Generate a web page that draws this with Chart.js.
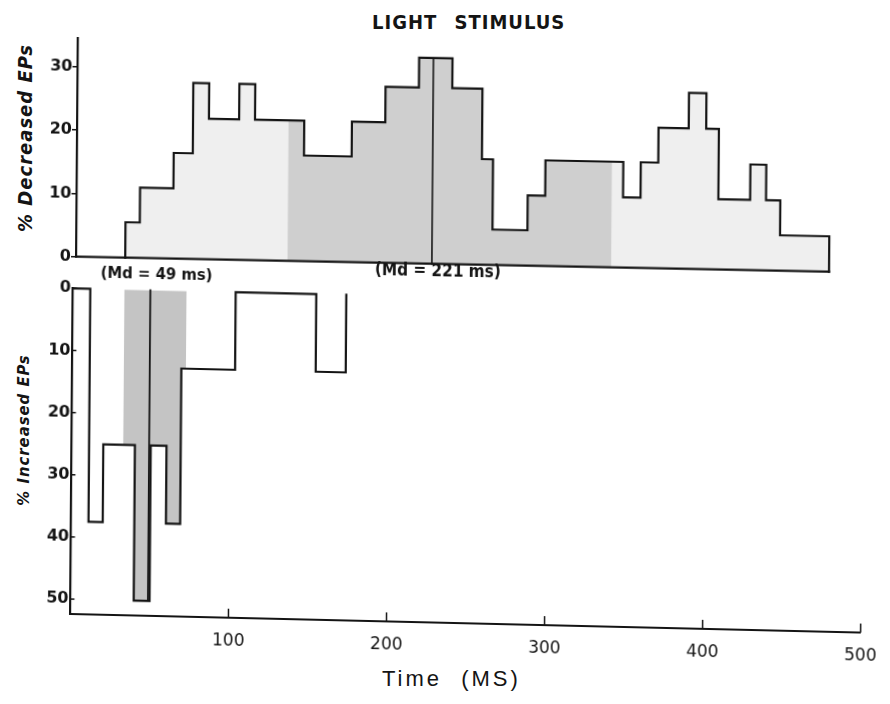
<!DOCTYPE html>
<html>
<head>
<meta charset="utf-8">
<title>Light stimulus</title>
<script src="https://cdn.jsdelivr.net/npm/chart.js@4.4.1/dist/chart.umd.min.js"></script>
<style>
  html, body { margin: 0; padding: 0; background: #ffffff; }
  body { width: 890px; height: 704px; position: relative; overflow: hidden; }
  canvas { position: absolute; left: 0; }
  /* the printed figure sits slightly askew on the page */
  #decChart { top: 0; transform-origin: 76px 256.7px; transform: matrix(1, 0.02, -0.0078, 1, 0, 0); }
  #incChart { top: 262px; transform-origin: 70.4px 352px; transform: matrix(1, 0.0235, -0.0078, 1, 0, 0); }
  .txt { position: absolute; white-space: nowrap; color: #141414; line-height: 1; }
  #title { left: 372px; top: 10px; font: bold 20px 'DejaVu Sans Condensed', 'DejaVu Sans', sans-serif; letter-spacing: 1px; word-spacing: 10px; }
  #xTitle { left: 382px; top: 666px; font: 22px 'Liberation Sans', Arial, sans-serif; letter-spacing: 3px; word-spacing: 10px; }
  .yTitle { font-family: 'DejaVu Sans Condensed', 'DejaVu Sans', sans-serif; font-style: italic; font-weight: bold; transform: translate(-50%, -50%) rotate(-90deg); }
  #decTitle { left: 25px; top: 138px; font-size: 20px; letter-spacing: 1px; }
  #incTitle { left: 24px; top: 430px; font-size: 16.5px; letter-spacing: 1px; }
</style>
</head>
<body>
<div id="title" class="txt">LIGHT STIMULUS</div>
<div id="decTitle" class="txt yTitle">% Decreased EPs</div>
<div id="incTitle" class="txt yTitle">% Increased EPs</div>
<div id="xTitle" class="txt">Time (MS)</div>
<canvas id="decChart" width="890" height="290"></canvas>
<canvas id="incChart" width="890" height="442"></canvas>
<script>
// Decreased EPs: bin edges (ms) and percent of EPs per bin
const decTimeEdges = [28, 37, 58, 70, 80, 99, 109, 140, 170, 191, 212, 233, 252, 259, 281, 292, 341, 352, 363, 382, 393, 401, 421, 431, 440, 471];
const decPercent = [5.6, 11.1, 16.7, 27.8, 22.2, 27.8, 22.2, 16.7, 22.2, 27.8, 32.5, 27.8, 16.7, 5.6, 11.1, 16.7, 11.1, 16.7, 22.2, 27.8, 22.2, 11.1, 16.7, 11.1, 5.6];
const decShadedRange = [130, 334];
const decMedian = 221;
const decTicks = [0, 10, 20, 30];

// Increased EPs: bin edges (ms) and percent of EPs per bin
const incTimeEdges = [0, 11, 20, 40, 50, 60, 69, 103, 154, 173];
const incPercent = [0, 37.5, 25, 50, 25, 37.5, 12.5, 0, 12.5];
const incShadedRange = [32.5, 72];
const incMedian = 49;
const incTicks = [0, 10, 20, 30, 40, 50];

const timeTicks = [100, 200, 300, 400, 500];

const INK = '#141414';

// histogram outline as a closed step path
function stepOutline(edges, values) {
  const pts = [{ x: edges[0], y: 0 }];
  values.forEach((v, i) => { pts.push({ x: edges[i], y: v }, { x: edges[i + 1], y: v }); });
  pts.push({ x: edges[edges.length - 1], y: 0 });
  return pts;
}
// part of the histogram between lo and hi
function stepSlice(edges, values, lo, hi) {
  const pts = [{ x: lo, y: 0 }];
  values.forEach((v, i) => {
    const a = Math.max(edges[i], lo), b = Math.min(edges[i + 1], hi);
    if (a < b) pts.push({ x: a, y: v }, { x: b, y: v });
  });
  pts.push({ x: hi, y: 0 });
  return pts;
}
function valueAt(edges, values, t) {
  for (let i = 0; i < values.length; i++) if (t >= edges[i] && t < edges[i + 1]) return values[i];
  return 0;
}

const lineDefaults = { pointRadius: 0, tension: 0, clip: false, borderJoinStyle: 'miter', borderCapStyle: 'square' };

const medianLabel = {
  id: 'medianLabel',
  afterDatasetsDraw(chart, args, opts) {
    const { ctx, scales: { x, y } } = chart;
    ctx.save();
    ctx.font = opts.font;
    ctx.fillStyle = INK;
    ctx.textAlign = 'center';
    ctx.textBaseline = 'middle';
    ctx.fillText(`(Md = ${opts.value} ms)`, x.getPixelForValue(opts.value) + opts.dx, y.getPixelForValue(0) + opts.dy);
    ctx.restore();
  }
};

const innerTicks = {
  id: 'innerTicks',
  afterDraw(chart) {
    const { ctx, scales: { x, y } } = chart;
    ctx.save();
    ctx.strokeStyle = INK;
    ctx.lineWidth = 1.5;
    x.ticks.forEach(t => {
      if (t.value <= 0) return;
      const px = x.getPixelForValue(t.value);
      ctx.beginPath(); ctx.moveTo(px, x.top); ctx.lineTo(px, x.top - 9); ctx.stroke();
    });
    y.ticks.forEach(t => {
      const py = y.getPixelForValue(t.value);
      ctx.beginPath(); ctx.moveTo(y.right - 1, py); ctx.lineTo(y.right + 4, py); ctx.stroke();
    });
    ctx.restore();
  }
};

Chart.defaults.font.family = "'DejaVu Sans', sans-serif";
Chart.defaults.color = INK;

const decXMin = -3;

new Chart(document.getElementById('decChart'), {
  type: 'line',
  data: {
    datasets: [
      { ...lineDefaults, data: stepOutline(decTimeEdges, decPercent), borderColor: INK, borderWidth: 2.2, fill: false },
      { ...lineDefaults, data: [{ x: decXMin, y: 0 }, { x: decTimeEdges[decTimeEdges.length - 1], y: 0 }], borderColor: INK, borderWidth: 2.2, fill: false },
      { ...lineDefaults, data: [{ x: decMedian, y: 0 }, { x: decMedian, y: valueAt(decTimeEdges, decPercent, decMedian) }], borderColor: '#2a2a2a', borderWidth: 1.8, fill: false },
      { ...lineDefaults, data: stepSlice(decTimeEdges, decPercent, decShadedRange[0], decShadedRange[1]), borderColor: 'rgba(0,0,0,0)', backgroundColor: '#cfcfcf', fill: 'origin' },
      { ...lineDefaults, data: stepOutline(decTimeEdges, decPercent), borderColor: 'rgba(0,0,0,0)', backgroundColor: '#efefef', fill: 'origin' }
    ]
  },
  options: {
    responsive: false,
    animation: false,
    events: [],
    layout: { padding: { left: 0, top: 38.3, right: 19.5, bottom: 33.3 } },
    plugins: {
      legend: { display: false },
      tooltip: { enabled: false },
      medianLabel: { value: decMedian, dx: 6, dy: 8, font: "bold 17px 'DejaVu Sans Condensed', 'DejaVu Sans', sans-serif" }
    },
    scales: {
      x: { type: 'linear', display: false, min: decXMin, max: 497 },
      y: {
        min: 0, max: 34.5,
        afterFit(s) { s.width = 76; },
        afterBuildTicks(s) { s.ticks = decTicks.map(v => ({ value: v })); },
        ticks: { padding: 0, font: { size: 16, weight: 'bold' }, color: INK },
        grid: { drawOnChartArea: false, drawTicks: true, tickLength: 5, color: INK, lineWidth: 1.5 },
        border: { display: true, color: INK, width: 2.2 }
      }
    }
  },
  plugins: [medianLabel]
});

new Chart(document.getElementById('incChart'), {
  type: 'line',
  data: {
    datasets: [
      { ...lineDefaults, data: stepOutline(incTimeEdges, incPercent), borderColor: INK, borderWidth: 2.2, fill: false },
      { ...lineDefaults, data: [{ x: incMedian, y: 0 }, { x: incMedian, y: valueAt(incTimeEdges, incPercent, incMedian) }], borderColor: INK, borderWidth: 1.8, fill: false },
      { ...lineDefaults, data: stepSlice(incTimeEdges, incPercent, incShadedRange[0], incShadedRange[1]), borderColor: 'rgba(0,0,0,0)', backgroundColor: '#c4c4c4', fill: 'origin' }
    ]
  },
  options: {
    responsive: false,
    animation: false,
    events: [],
    layout: { padding: { left: 0, top: 26.3, right: 25.1, bottom: 30 } },
    plugins: {
      legend: { display: false },
      tooltip: { enabled: false },
      medianLabel: { value: incMedian, dx: 6, dy: -15.3, font: "bold 16.5px 'DejaVu Sans Condensed', 'DejaVu Sans', sans-serif" }
    },
    scales: {
      x: {
        type: 'linear', min: 0, max: 500,
        afterFit(s) { s.height = 60; },
        afterBuildTicks(s) { s.ticks = timeTicks.map(v => ({ value: v })); },
        ticks: { padding: 13, font: { size: 17 }, color: INK, maxRotation: 0, autoSkip: false },
        grid: { display: false, drawTicks: false },
        border: { display: true, color: INK, width: 2 }
      },
      y: {
        reverse: true, min: 0, max: 52.4,
        afterFit(s) { s.width = 70.4; },
        afterBuildTicks(s) { s.ticks = incTicks.map(v => ({ value: v })); },
        ticks: { padding: 2, font: { size: 16, weight: 'bold' }, color: INK },
        grid: { display: false, drawTicks: false },
        border: { display: true, color: INK, width: 2.2 }
      }
    }
  },
  plugins: [medianLabel, innerTicks]
});
</script>
</body>
</html>
